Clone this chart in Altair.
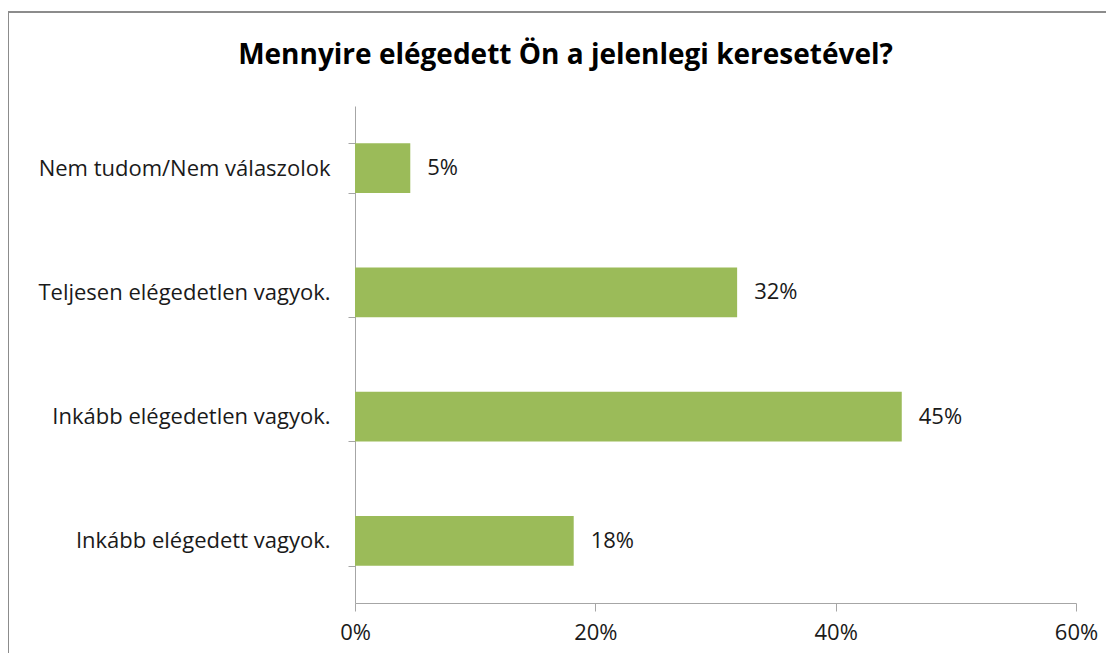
import altair as alt
import pandas as pd

categories = [
    "Nem tudom/Nem válaszolok",
    "Teljesen elégedetlen vagyok.",
    "Inkább elégedetlen vagyok.",
    "Inkább elégedett vagyok.",
]
values = [0.046, 0.318, 0.455, 0.182]
labels = ["5%", "32%", "45%", "18%"]
x_ticks = [0, 0.2, 0.4, 0.6]

df = pd.DataFrame({"cat": categories, "val": values, "lab": labels})

FONT = "Open Sans"
GRAY = "#A6A6A6"
GREEN = "#9BBB59"
TXT = "#1a1a1a"
FS = 22

y_enc = alt.Y(
    "cat:N",
    sort=categories,
    title=None,
    scale=alt.Scale(paddingInner=0.6, paddingOuter=0.3),
    axis=alt.Axis(
        tickBand="extent",
        tickSize=7,
        labelPadding=18,
        labelFontSize=FS,
        labelFont=FONT,
        labelColor=TXT,
        labelLimit=400,
        domainColor=GRAY,
        tickColor=GRAY,
        grid=False,
    ),
)
x_enc = alt.X(
    "val:Q",
    title=None,
    scale=alt.Scale(domain=[0, 0.6], nice=False),
    axis=alt.Axis(
        values=x_ticks,
        format=".0%",
        tickSize=8,
        labelPadding=11,
        labelFlush=False,
        labelFontSize=FS,
        labelFont=FONT,
        labelColor=TXT,
        domainColor=GRAY,
        tickColor=GRAY,
        grid=False,
    ),
)

bars = alt.Chart(df).mark_bar(color=GREEN).encode(x=x_enc, y=y_enc)
texts = alt.Chart(df).mark_text(
    align="left", baseline="middle", dx=17, fontSize=FS, font=FONT, color=TXT
).encode(x="val:Q", y=alt.Y("cat:N", sort=categories), text="lab:N")

border = alt.Chart(alt.Data(values=[{}])).mark_rect(
    fill=None, stroke="#8C8C8C", strokeWidth=2
).encode(
    x=alt.value(-347), x2=alt.value(760), y=alt.value(-94), y2=alt.value(600)
)

chart = alt.layer(border, bars, texts).properties(
    width=721,
    height=497,
    autosize=alt.AutoSizeParams(type="none"),
    padding={"left": 347, "top": 98, "right": 30, "bottom": 50},
    title=alt.Title(
        "Mennyire elégedett Ön a jelenlegi keresetével?",
        fontSize=28,
        font=FONT,
        fontWeight="bold",
        color="#000000",
        anchor="middle",
        frame="group",
        dx=-150,
        dy=93,
        offset=34,
    ),
).configure_view(stroke=None)

chart.save("out.html", embed_options={"renderer": "svg", "actions": False})
